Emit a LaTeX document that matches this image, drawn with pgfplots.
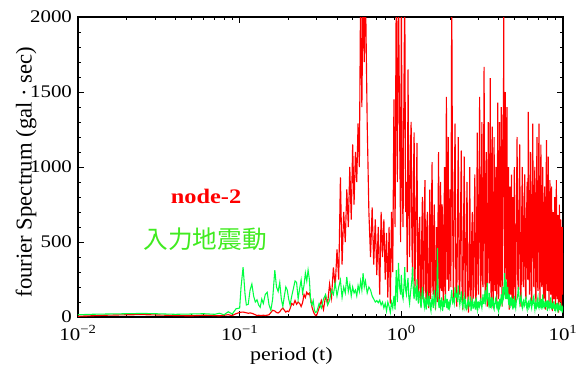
\documentclass[border=0pt]{standalone}
\usepackage{pgfplots}
\pgfplotsset{compat=1.18}
\usepackage{pgfplotstable}
\usepackage{fontspec}
\setmainfont{Liberation Serif}[FakeStretch=1.18]
\newfontfamily\serifns{Liberation Serif}
\newfontfamily\cjk{Noto Sans CJK JP}
\definecolor{lgreen}{RGB}{0,255,64}
\definecolor{tgreen}{RGB}{64,235,32}
\pgfplotstableread{
t r g
0.010 5 15
0.012 8 18
0.015 12 20
0.020 15 22
0.025 16 24
0.030 14 22
0.040 10 18
0.050 8 20
0.060 12 22
0.070 10 18
0.075 8 25
0.080 12 15
0.085 15 35
0.090 10 20
0.095 22 55
0.100 30 60
0.102 32 200
0.105 33 333
0.108 30 150
0.110 28 80
0.113 25 85
0.116 27 180
0.119 25 220
0.122 20 140
0.125 15 100
0.128 10 115
0.131 12 80
0.134 10 65
0.137 10 120
0.140 12 90
0.144 10 150
0.148 12 165
0.152 15 80
0.156 30 45
0.160 45 120
0.165 40 313
0.169 30 200
0.173 27 170
0.177 35 230
0.181 50 120
0.185 60 70
0.189 45 140
0.193 33 200
0.197 40 180
0.201 35 120
0.205 55 80
0.210 90 140
0.215 80 190
0.220 110 240
0.225 85 230
0.230 100 120
0.235 90 190
0.240 70 247
0.245 95 160
0.250 150 210
0.255 130 293
0.260 165 240
0.265 150 313
0.270 160 250
0.275 120 100
0.280 67 80
0.285 40 110
0.290 20 45
0.295 10 30
0.300 13 35
0.310 60 90
0.320 110 60
0.330 50 120
0.340 140 150
0.350 90 80
0.360 220 110
0.370 130 180
0.380 330 150
0.390 200 227
0.400 450 140
0.410 250 200
0.420 930 247
0.430 350 130
0.440 700 200
0.450 500 160
0.460 850 267
0.470 600 170
0.480 1000 220
0.490 650 140
0.500 1150 200
0.510 750 160
0.520 1100 180
0.530 900 140
0.540 1290 210
0.550 1000 170
0.560 2200 240
0.570 1400 180
0.580 2200 293
0.590 1700 200
0.600 2200 240
0.615 1290 160
0.630 700 200
0.645 400 180
0.660 730 140
0.675 350 120
0.690 650 100
0.705 280 110
0.720 600 95
0.735 150 113
0.750 700 80
0.765 400 100
0.780 650 60
0.795 250 90
0.810 560 40
0.825 130 100
0.840 600 70
0.855 90 30
0.870 700 100
0.885 300 60
0.900 1450 140
0.915 600 50
0.930 2200 313
0.945 900 100
0.960 2200 360
0.975 1300 200
0.990 500 150
1.0000 2200 280
1.0125 900 150
1.0250 600 120
1.0375 1500 200
1.0500 2200 333
1.0625 700 180
1.0750 900 150
1.0875 300 220
1.1000 1650 260
1.1125 800 130
1.1250 400 90
1.1375 1100 150
1.1500 1300 200
1.1625 500 250
1.1750 250 333
1.1875 900 160
1.2000 1230 120
1.2125 175 200
1.2250 500 180
1.2375 800 110
1.2500 1160 250
1.2625 200 140
1.2750 150 90
1.2875 600 170
1.3000 667 160
1.3125 100 100
1.3250 70 60
1.3375 550 130
1.3500 800 200
1.3625 120 150
1.3750 175 100
1.3875 700 70
1.4000 913 130
1.4125 200 80
1.4250 100 50
1.4375 600 120
1.4500 700 150
1.4625 150 90
1.4750 60 80
1.4875 250 140
1.5000 850 110
1.5125 120 60
1.5250 200 40
1.5375 750 100
1.5500 1033 130
1.5625 225 90
1.5750 150 60
1.5875 600 120
1.6000 750 180
1.6125 175 110
1.6250 50 70
1.6375 225 100
1.6500 600 140
1.6625 150 200
1.6750 100 460
1.6875 700 150
1.7000 1100 90
1.7125 250 60
1.7250 120 120
1.7375 650 80
1.7500 900 60
1.7625 200 100
1.7750 175 130
1.7875 750 90
1.8000 650 40
1.8125 150 80
1.8250 70 110
1.8375 600 70
1.8500 1000 70
1.8625 225 120
1.8750 150 150
1.8875 800 100
1.9000 1467 90
1.9125 600 60
1.9250 250 120
1.9375 900 80
1.9500 1200 50
1.9625 175 90
1.9750 200 100
1.9875 700 60
2.000 850 70
2.025 200 120
2.050 2200 180
2.075 700 100
2.100 120 120
2.125 800 90
2.150 1290 200
2.175 225 140
2.200 70 150
2.225 600 100
2.250 1200 210
2.275 250 130
2.300 150 80
2.325 700 120
2.350 1110 170
2.375 200 90
2.400 50 60
2.425 550 110
2.450 1070 140
2.475 175 70
2.500 120 100
2.525 600 50
2.550 900 60
2.575 150 100
2.600 30 120
2.625 250 70
2.650 1000 80
2.675 200 110
2.700 100 40
2.725 550 90
2.750 700 110
2.775 120 60
2.800 150 60
2.825 650 100
2.850 950 90
2.875 200 50
2.900 60 130
2.925 600 80
2.950 1230 50
2.975 250 100
3.000 150 100
3.025 800 60
3.050 1467 70
3.075 600 110
3.100 100 120
3.125 700 80
3.150 1300 60
3.175 250 100
3.200 200 150
3.225 900 90
3.250 1667 90
3.275 700 140
3.300 120 180
3.325 600 100
3.350 1100 120
3.375 225 150
3.400 70 227
3.425 700 120
3.450 1300 100
3.475 600 80
3.500 225 160
3.525 900 110
3.550 1593 60
3.575 250 100
3.600 100 130
3.625 750 70
3.650 1270 80
3.675 200 120
3.700 60 110
3.725 650 60
3.750 1200 50
3.775 250 90
3.800 175 90
3.825 800 120
3.850 1000 130
3.875 200 70
3.900 90 60
3.925 700 100
3.950 1430 100
3.975 550 60
4.000 120 40
4.025 650 90
4.050 1300 120
4.075 250 70
4.100 200 80
4.125 800 110
4.150 1400 150
4.175 600 100
4.200 70 90
4.225 700 150
4.250 1350 200
4.275 800 120
4.300 2200 130
4.325 700 200
4.350 150 293
4.375 900 180
4.400 1500 160
4.425 600 120
4.450 250 250
4.475 1000 150
4.500 1400 120
4.525 250 160
4.550 120 200
4.575 700 140
4.600 1000 100
4.625 200 80
4.650 50 150
4.675 250 100
4.700 870 60
4.725 225 110
4.750 150 130
4.775 650 80
4.800 950 80
4.825 200 120
4.850 70 110
4.875 550 70
4.900 800 50
4.925 175 100
4.950 120 90
4.975 650 60
5.00 1000 140
5.05 250 90
5.10 100 60
5.15 700 110
5.20 1200 120
5.25 250 150
5.30 175 200
5.35 800 130
5.40 1150 90
5.45 225 120
5.50 70 140
5.55 650 80
5.60 1000 60
5.65 250 100
5.70 200 110
5.75 750 70
5.80 950 80
5.85 200 120
5.90 120 130
5.95 650 70
6.00 900 50
6.05 250 90
6.10 1367 100
6.15 600 60
6.20 150 70
6.25 750 110
6.30 1100 120
6.35 225 80
6.40 90 60
6.45 700 100
6.50 1290 90
6.55 550 130
6.60 200 140
6.65 800 80
6.70 1000 50
6.75 225 90
6.80 100 100
6.85 700 60
6.90 1200 70
6.95 250 110
7.00 175 130
7.05 800 70
7.10 1290 60
7.15 550 90
7.20 70 110
7.25 650 70
7.30 1150 80
7.35 250 120
7.40 200 50
7.45 750 90
7.50 1000 150
7.55 225 80
7.60 120 90
7.65 600 60
7.70 870 60
7.75 200 100
7.80 50 100
7.85 650 70
7.90 1180 70
7.95 250 110
8.00 175 40
8.05 700 80
8.10 1070 110
8.15 225 70
8.20 100 60
8.25 600 90
8.30 913 80
8.35 200 60
8.40 150 130
8.45 650 80
8.50 870 50
8.55 175 90
8.60 40 90
8.65 250 60
8.70 700 60
8.75 175 100
8.80 120 100
8.85 550 60
8.90 800 40
8.95 200 80
9.00 70 80
9.05 550 50
9.10 913 60
9.15 200 90
9.20 120 90
9.25 500 60
9.30 680 30
9.35 150 80
9.40 30 70
9.45 450 50
9.50 750 50
9.55 175 70
9.60 100 80
9.65 500 60
9.70 650 40
9.75 150 70
9.80 60 60
9.85 450 50
9.90 600 30
9.95 150 60
10.00 250 50
}\spec
\begin{document}
\begin{tikzpicture}
\useasboundingbox (-58.5pt,-39pt) rectangle (379.5pt,237.75pt);
\begin{axis}[
  at={(0,0)}, anchor=south west,
  scale only axis, width=363.75pt, height=225pt,
  xmode=log, xmin=0.01, xmax=10, ymin=0, ymax=2000,
  xtick={0.01,0.1,1,10},
  xticklabels={10\textsuperscript{−2},10\textsuperscript{−1},10\textsuperscript{0},10\textsuperscript{1}},
  ytick={0,500,1000,1500,2000},
  minor y tick num=4,
  /pgf/number format/assume math mode=true,
  /pgf/number format/set thousands separator={},
  tick label style={font=\fontsize{13.3}{14}\selectfont},
  yticklabel style={xshift=-1pt},
  xticklabel style={yshift=-3pt},
  major tick length=4.5pt, minor tick length=2.25pt,
  tick style={black, line width=0.6pt},
  axis line style={black, line width=0.9pt},
  xlabel={period (t)},
  ylabel={fourier Spectrum (gal · sec)},
  xlabel style={font=\fontsize{14}{16}\selectfont, at={(axis description cs:0.44,-0.13)}, anchor=center},
  ylabel style={font=\serifns\fontsize{17}{18}\selectfont, at={(axis description cs:-0.107,0.483)}, anchor=center},
]
\addplot[red, line width=0.85pt] table[x=t, y=r] {\spec};
\addplot[lgreen, line width=0.8pt] table[x=t, y=g] {\spec};
\node[text=red, font=\bfseries\fontsize{15.5}{17}\selectfont] at (rel axis cs:0.264,0.403) {node-2};
\node[text=tgreen, font=\cjk\fontsize{18.5}{20}\selectfont] at (rel axis cs:0.262,0.26) {入力地震動};
\end{axis}
\end{tikzpicture}
\end{document}
